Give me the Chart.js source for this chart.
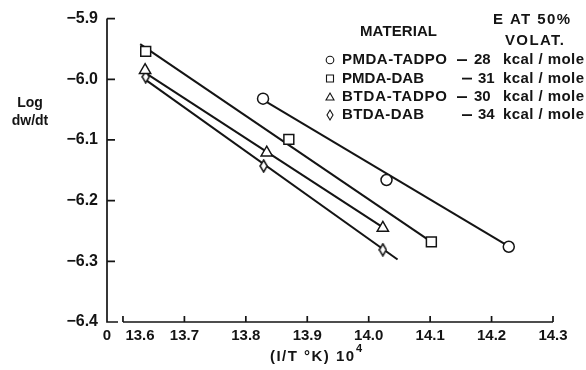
<!DOCTYPE html>
<html>
<head>
<meta charset="utf-8">
<script src="https://cdn.jsdelivr.net/npm/chart.js@4.4.1/dist/chart.umd.min.js"></script>
<style>
  html, body { margin: 0; padding: 0; background: #fff; }
  #wrap { width: 586px; height: 370px; }
</style>
</head>
<body>
<div id="wrap"><canvas id="arrhenius" width="586" height="370"></canvas></div>
<script>
// Log volatilization rate vs reciprocal temperature, four polyimides
const materials = ['PMDA-TADPO', 'PMDA-DAB', 'BTDA-TADPO', 'BTDA-DAB'];
const energies = [28, 31, 30, 34];

const pmdaTadpoPts = [{ x: 13.828, y: -6.032 }, { x: 14.029, y: -6.166 }, { x: 14.228, y: -6.276 }];
const pmdaDabPts   = [{ x: 13.637, y: -5.954 }, { x: 13.870, y: -6.099 }, { x: 14.102, y: -6.268 }];
const btdaTadpoPts = [{ x: 13.636, y: -5.985 }, { x: 13.834, y: -6.121 }, { x: 14.023, y: -6.245 }];
const btdaDabPts   = [{ x: 13.637, y: -5.996 }, { x: 13.829, y: -6.143 }, { x: 14.023, y: -6.281 }];

// fitted lines, end points
const pmdaTadpoFit = [{ x: 13.828, y: -6.034 }, { x: 14.226, y: -6.274 }];
const pmdaDabFit   = [{ x: 13.628, y: -5.942 }, { x: 14.102, y: -6.268 }];
const btdaTadpoFit = [{ x: 13.637, y: -5.990 }, { x: 14.020, y: -6.242 }];
const btdaDabFit   = [{ x: 13.637, y: -6.001 }, { x: 14.047, y: -6.297 }];

const xTicks = [13.574, 13.6, 13.7, 13.8, 13.9, 14.0, 14.1, 14.2, 14.3];
const xTickLabels = ['0', '13.6', '13.7', '13.8', '13.9', '14.0', '14.1', '14.2', '14.3'];
const yTicks = [-5.9, -6.0, -6.1, -6.2, -6.3, -6.4];

const INK = '#141414';
const FONT = '"Liberation Sans", Arial, sans-serif';

function diamondMark(w, h) {
  const c = document.createElement('canvas');
  c.width = w + 2; c.height = h + 2;
  const g = c.getContext('2d');
  g.beginPath();
  g.moveTo(c.width / 2, 1);
  g.lineTo(c.width - 1, c.height / 2);
  g.lineTo(c.width / 2, c.height - 1);
  g.lineTo(1, c.height / 2);
  g.closePath();
  g.fillStyle = '#fff'; g.fill();
  g.lineWidth = 1.5; g.strokeStyle = INK; g.stroke();
  return c;
}

function pointSet(data, style, radius) {
  return {
    data: data, showLine: false, order: 0,
    pointStyle: style, pointRadius: radius, pointHoverRadius: radius,
    pointBackgroundColor: '#fff', pointBorderColor: INK, pointBorderWidth: 1.5
  };
}
function lineSet(data) {
  return {
    data: data, showLine: true, order: 1, pointRadius: 0,
    borderColor: INK, borderWidth: 2, fill: false
  };
}

function fitText(ctx, str, x, y, width) {
  ctx.letterSpacing = '0px';
  const natural = ctx.measureText(str).width;
  const extra = str.length > 1 ? Math.max(0, (width - natural) / (str.length - 1)) : 0;
  ctx.letterSpacing = extra.toFixed(2) + 'px';
  ctx.fillText(str, x, y);
  ctx.letterSpacing = '0px';
}

function legendMark(ctx, i, cx, cy) {
  ctx.beginPath();
  if (i === 0) ctx.arc(cx, cy, 3.8, 0, Math.PI * 2);
  else if (i === 1) ctx.rect(cx - 3.5, cy - 3.5, 7, 7);
  else if (i === 2) { ctx.moveTo(cx, cy - 4); ctx.lineTo(cx + 4, cy + 3); ctx.lineTo(cx - 4, cy + 3); ctx.closePath(); }
  else { ctx.moveTo(cx, cy - 5); ctx.lineTo(cx + 3, cy); ctx.lineTo(cx, cy + 5); ctx.lineTo(cx - 3, cy); ctx.closePath(); }
  ctx.stroke();
}

const axesAndNotes = {
  id: 'axesAndNotes',
  afterDraw(chart) {
    const { ctx, chartArea: a, scales: { x, y } } = chart;
    ctx.save();
    ctx.strokeStyle = INK;
    ctx.lineWidth = 1.7;
    ctx.beginPath();
    // y axis and the short stub of the broken x axis
    ctx.moveTo(a.left, a.top);
    ctx.lineTo(a.left, a.bottom);
    ctx.lineTo(a.left + 11, a.bottom);
    ctx.moveTo(x.getPixelForValue(xTicks[1]), a.bottom);
    ctx.lineTo(a.right, a.bottom);
    yTicks.forEach(v => {
      const py = y.getPixelForValue(v);
      ctx.moveTo(a.left, py); ctx.lineTo(a.left + 8, py);
    });
    xTicks.slice(1).forEach(v => {
      const px = x.getPixelForValue(v);
      ctx.moveTo(px, a.bottom); ctx.lineTo(px, a.bottom - 6);
    });
    ctx.stroke();

    ctx.fillStyle = INK;
    ctx.textBaseline = 'middle';
    ctx.textAlign = 'center';
    ctx.font = 'bold 15px ' + FONT;
    xTicks.forEach((v, i) => {
      let px = x.getPixelForValue(v);
      if (i === 1) px += 17; // label pushed clear of the "0"
      ctx.fillText(xTickLabels[i], px, a.bottom + 14);
    });

    // axis titles
    ctx.font = 'bold 14px ' + FONT;
    ctx.fillText('Log', 30, 103);
    ctx.fillText('dw/dt', 30, 121);
    ctx.textAlign = 'left';
    ctx.font = 'bold 15px ' + FONT;
    fitText(ctx, '(I/T °K) 10', 270, 357, 84);
    ctx.font = 'bold 11px ' + FONT;
    ctx.fillText('4', 356, 349);

    // legend
    ctx.font = 'bold 15px ' + FONT;
    fitText(ctx, 'MATERIAL', 360, 32, 77);
    fitText(ctx, 'E AT 50%', 493, 20, 77);
    fitText(ctx, 'VOLAT.', 505, 41, 59);
    ctx.lineWidth = 1.1;
    const rows = [60, 78.5, 97, 115];
    materials.forEach((name, i) => {
      const cy = rows[i];
      const longName = name.length === 10;
      legendMark(ctx, i, 330, cy);
      fitText(ctx, name, 342, cy, longName ? 105 : 82);
      ctx.fillRect(longName ? 457 : 462, cy - 0.8, 10, 1.8);
      ctx.fillText(String(energies[i]), longName ? 474 : 478, cy);
      fitText(ctx, 'kcal / mole', 503, cy, 81);
    });
    ctx.restore();
  }
};

new Chart(document.getElementById('arrhenius'), {
  type: 'scatter',
  data: {
    datasets: [
      pointSet(pmdaTadpoPts, 'circle', 5.5),
      pointSet(pmdaDabPts, 'rect', 7),
      pointSet(btdaTadpoPts, 'triangle', 6.5),
      pointSet(btdaDabPts, diamondMark(7, 12), 6),
      lineSet(pmdaTadpoFit),
      lineSet(pmdaDabFit),
      lineSet(btdaTadpoFit),
      lineSet(btdaDabFit)
    ]
  },
  options: {
    responsive: false,
    animation: false,
    layout: { padding: { left: 0, top: 16, right: 33, bottom: 0 } },
    plugins: { legend: { display: false }, tooltip: { enabled: false } },
    scales: {
      x: {
        type: 'linear', min: xTicks[0], max: xTicks[xTicks.length - 1],
        grid: { display: false, drawTicks: false },
        border: { display: false },
        ticks: { display: false },
        afterBuildTicks: s => { s.ticks = xTicks.map(v => ({ value: v })); },
        afterFit: s => { s.height = 48; }
      },
      y: {
        type: 'linear', min: -6.4, max: -5.9,
        grid: { display: false, drawTicks: false },
        border: { display: false },
        ticks: {
          color: INK, padding: 9,
          font: { family: FONT, size: 16, weight: 'bold' },
          callback: v => '\u2212' + Math.abs(v).toFixed(1)
        },
        afterBuildTicks: s => { s.ticks = yTicks.map(v => ({ value: v })); },
        afterFit: s => { s.width = 107; }
      }
    }
  },
  plugins: [axesAndNotes]
});
</script>
</body>
</html>
